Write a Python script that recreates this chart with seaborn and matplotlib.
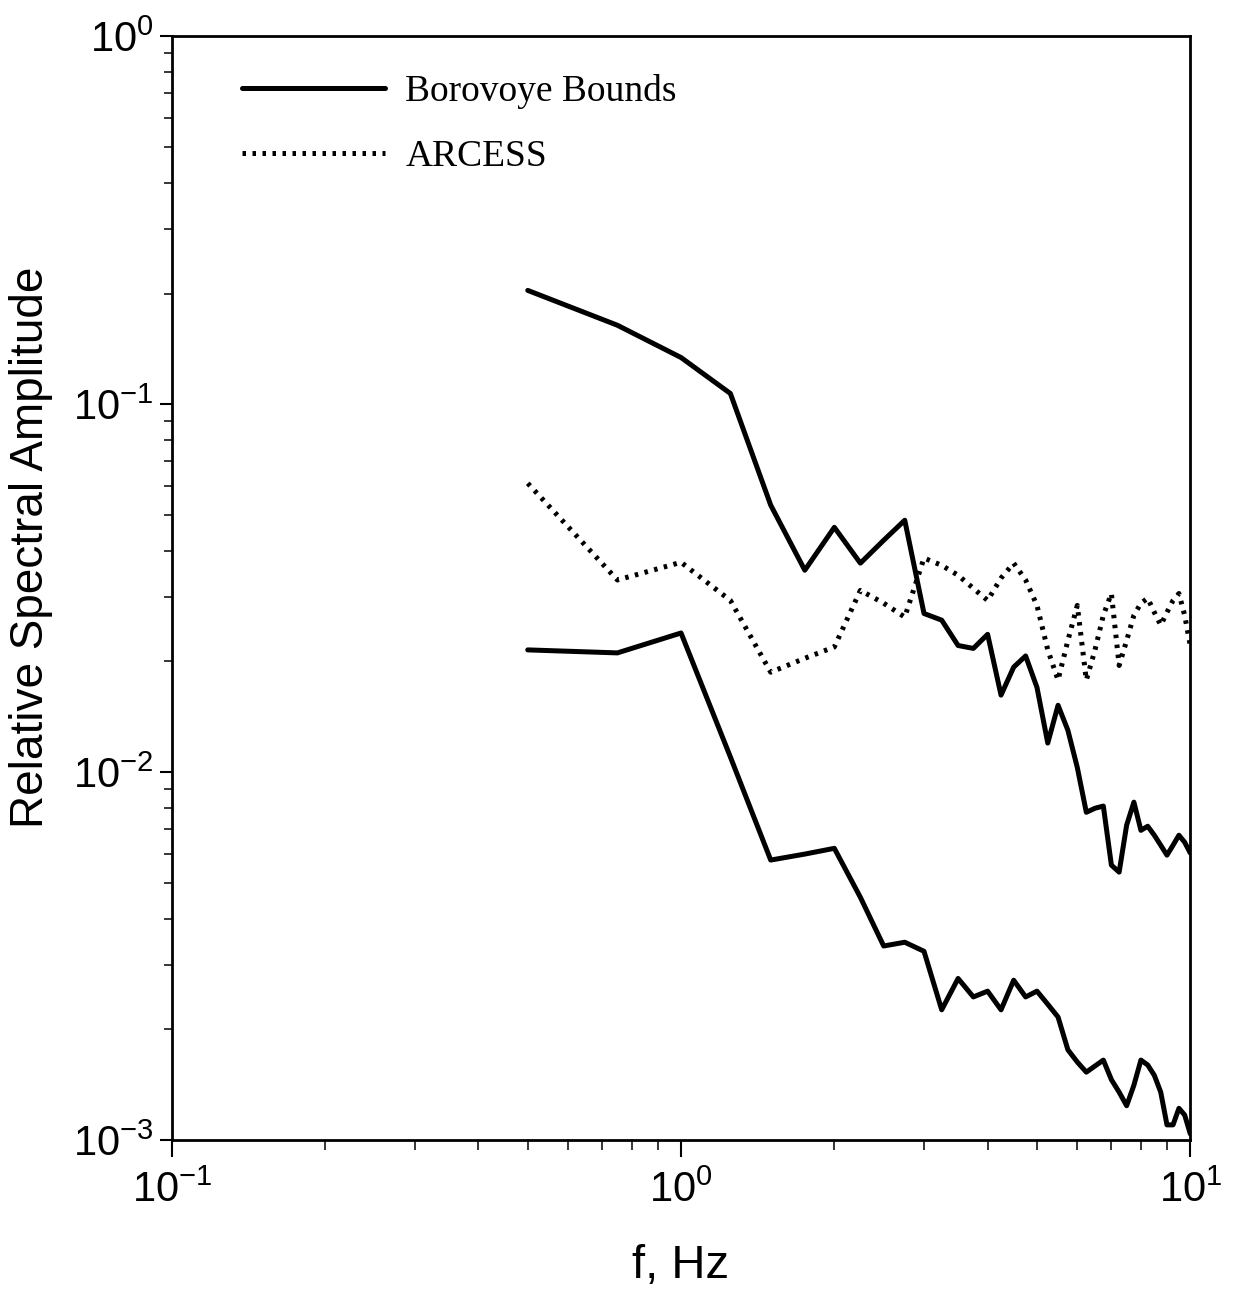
import numpy as np
import pandas as pd
import seaborn as sns
import matplotlib
matplotlib.use("Agg")
import matplotlib.pyplot as plt
from matplotlib.ticker import LogLocator, LogFormatterSciNotation, NullFormatter

# ---- data ----
freq = [0.5, 0.75, 1.0, 1.25, 1.5, 1.75, 2.0, 2.25, 2.5, 2.75,
        3.0, 3.25, 3.5, 3.75, 4.0, 4.25, 4.5, 4.75, 5.0, 5.25,
        5.5, 5.75, 6.0, 6.25, 6.5, 6.75, 7.0, 7.25, 7.5, 7.75,
        8.0, 8.25, 8.5, 8.75, 9.0, 9.25, 9.5, 9.75, 10.0]

borovoye_upper = [0.204, 0.164, 0.134, 0.107, 0.0532, 0.0354, 0.0463, 0.0370, 0.0427, 0.0484,
                  0.0270, 0.0259, 0.0221, 0.0217, 0.0237, 0.0162, 0.0193, 0.0207, 0.0170, 0.0120,
                  0.0152, 0.0130, 0.0103, 0.00778, 0.00798, 0.00809, 0.00559, 0.00535, 0.00718, 0.00829,
                  0.00695, 0.00713, 0.00674, 0.00633, 0.00595, 0.00633, 0.00674, 0.00645, 0.00603]

borovoye_lower = [0.0215, 0.0211, 0.0239, 0.0110, 0.00577, 0.00599, 0.00621, 0.00457, 0.00337, 0.00345,
                  0.00326, 0.00226, 0.00275, 0.00245, 0.00254, 0.00226, 0.00272, 0.00245, 0.00254, 0.00234,
                  0.00216, 0.00176, 0.00163, 0.00153, 0.00159, 0.00165, 0.00146, 0.00135, 0.00124, 0.00141,
                  0.00165, 0.00160, 0.00150, 0.00135, 0.00110, 0.00110, 0.00122, 0.00117, 0.00104]

arcess = [0.0610, 0.0333, 0.0372, 0.0293, 0.0187, 0.0204, 0.0219, 0.0312, 0.0288, 0.0264,
          0.0382, 0.0365, 0.0343, 0.0316, 0.0293, 0.0337, 0.0370, 0.0333, 0.0284, 0.0215,
          0.0178, 0.0228, 0.0284, 0.0178, 0.0215, 0.0267, 0.0306, 0.0195, 0.0228, 0.0267,
          0.0288, 0.0297, 0.0272, 0.0251, 0.0272, 0.0293, 0.0306, 0.0267, 0.0221]

legend_labels = ["Borovoye Bounds", "ARCESS"]
x_label = "f, Hz"
y_label = "Relative Spectral Amplitude"

# ---- style ----
sns.set_theme(style="ticks")
plt.rcParams["font.family"] = ["Liberation Sans", "DejaVu Sans"]
plt.rcParams["mathtext.fontset"] = "custom"
plt.rcParams["mathtext.rm"] = "Liberation Sans"
plt.rcParams["mathtext.default"] = "regular"
plt.rcParams["axes.unicode_minus"] = False
plt.rcParams["text.color"] = "black"

fig = plt.figure(figsize=(12.36, 13.0), dpi=100)
ax = fig.add_axes([0.139, 0.123, 0.824, 0.849])

df = pd.DataFrame({"f": freq, "upper": borovoye_upper,
                   "lower": borovoye_lower, "arcess": arcess})

lw = 3.6
sns.lineplot(data=df, x="f", y="upper", ax=ax, color="black", lw=lw,
             label=legend_labels[0], estimator=None, sort=False)
sns.lineplot(data=df, x="f", y="lower", ax=ax, color="black", lw=lw,
             label="_nolegend_", estimator=None, sort=False)
sns.lineplot(data=df, x="f", y="arcess", ax=ax, color="black", lw=lw,
             label=legend_labels[1], estimator=None, sort=False)
arc_line = ax.get_lines()[2]
arc_line.set_dashes([0.7, 1.3])
arc_line.set_dash_capstyle("butt")

ax.set_xscale("log")
ax.set_yscale("log")
ax.set_xlim(0.1, 10)
ax.set_ylim(1e-3, 1)

for sp in ax.spines.values():
    sp.set_visible(True)
    sp.set_linewidth(2.0)
    sp.set_color("black")

ax.xaxis.set_major_locator(LogLocator(base=10, numticks=10))
ax.xaxis.set_minor_locator(LogLocator(base=10, subs=np.arange(2, 10), numticks=20))
ax.yaxis.set_major_locator(LogLocator(base=10, numticks=10))
ax.yaxis.set_minor_locator(LogLocator(base=10, subs=np.arange(2, 10), numticks=20))
ax.xaxis.set_minor_formatter(NullFormatter())
ax.yaxis.set_minor_formatter(NullFormatter())
ax.xaxis.set_major_formatter(LogFormatterSciNotation())
ax.yaxis.set_major_formatter(LogFormatterSciNotation())

ax.tick_params(axis="x", which="major", direction="out", length=12, width=1.5,
               labelsize=30, pad=10, colors="black")
ax.tick_params(axis="x", which="minor", direction="out", length=7, width=1.3)
ax.tick_params(axis="y", which="major", direction="out", length=9, width=1.5,
               labelsize=30, pad=4, colors="black")
ax.tick_params(axis="y", which="minor", direction="out", length=6, width=1.3)

ax.set_xlabel(x_label, fontsize=34, color="black")
ax.set_ylabel(y_label, fontsize=33, color="black")
ax.xaxis.set_label_coords(0.5, -0.094)
ax.yaxis.set_label_coords(-0.117, 0.537)

leg = ax.legend(loc="upper left", bbox_to_anchor=(0.069, 0.966), frameon=False,
                prop={"family": "Liberation Serif", "size": 27},
                handlelength=3.8, handletextpad=0.55, labelspacing=0.82,
                borderpad=0, borderaxespad=0)
for t in leg.get_texts():
    t.set_color("black")

fig.savefig("out.png", dpi=100, facecolor="white")
